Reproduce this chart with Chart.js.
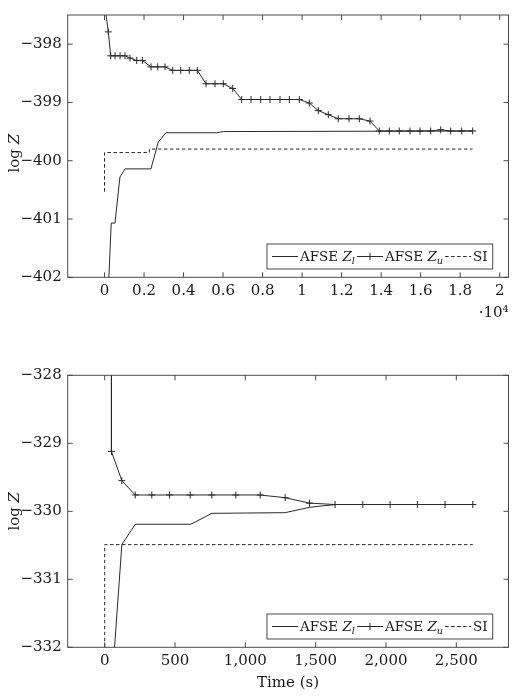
<!DOCTYPE html>
<html>
<head>
<meta charset="utf-8">
<script src="https://cdn.jsdelivr.net/npm/chart.js@4.4.1/dist/chart.umd.min.js"></script>
<style>
  body { margin: 0; background: #fff; }
  canvas { position: absolute; left: 0; }
  #chartTop { top: 0; }
  #chartBottom { top: 350px; }
</style>
</head>
<body>
<canvas id="chartTop" width="516" height="350"></canvas>
<canvas id="chartBottom" width="516" height="349"></canvas>
<script>
// Panel 1 (time axis shown in units of 10^4)
const topZlX = [170, 340, 530, 780, 1040, 2350, 2720, 3110, 5680, 6010, 18630];
const topZlY = [-402.4, -401.07, -401.07, -400.28, -400.14, -400.14, -399.68, -399.52, -399.52, -399.50, -399.49];

const topZuX = [0, 192, 313, 534, 787, 1037, 1290, 1630, 1915, 2353, 2692, 3062, 3451, 3856, 4291, 4696,
  5137, 5592, 6012, 6488, 6943, 7414, 7905, 8375, 8881, 9352, 9858, 10364, 10820, 11326, 11832, 12373,
  12895, 13436, 13907, 14413, 14919, 15460, 15967, 16508, 17014, 17520, 18077, 18633];
const topZuY = [-397.3, -397.79, -398.2, -398.2, -398.2, -398.2, -398.24, -398.28, -398.28, -398.39, -398.39,
  -398.39, -398.45, -398.45, -398.45, -398.45, -398.68, -398.68, -398.68, -398.76, -398.95, -398.95, -398.95,
  -398.95, -398.95, -398.95, -398.95, -399.01, -399.14, -399.21, -399.28, -399.28, -399.28, -399.32, -399.49,
  -399.49, -399.49, -399.49, -399.49, -399.49, -399.47, -399.49, -399.49, -399.49];

const topSIX = [0, 0, 2270, 2270, 18630];
const topSIY = [-400.53, -399.86, -399.86, -399.80, -399.80];

const topXTicks = [0, 2000, 4000, 6000, 8000, 10000, 12000, 14000, 16000, 18000, 20000];
const topYTicks = [-402, -401, -400, -399, -398];

// Panel 2
const botZlX = [65, 122, 217, 613, 762, 1283, 1460, 1645, 2617];
const botZlY = [-332.15, -330.49, -330.19, -330.19, -330.03, -330.02, -329.94, -329.90, -329.90];

const botZuX = [48, 48, 122, 217, 335, 461, 608, 762, 933, 1105, 1283, 1456, 1638, 1835, 2029, 2223, 2420, 2617];
const botZuY = [-327.5, -329.12, -329.55, -329.76, -329.76, -329.76, -329.76, -329.76, -329.76, -329.76,
  -329.80, -329.88, -329.90, -329.90, -329.90, -329.90, -329.90, -329.90];

const botSIX = [0, 0, 2617];
const botSIY = [-332, -330.49, -330.49];

const botXTicks = [0, 500, 1000, 1500, 2000, 2500];
const botYTicks = [-332, -331, -330, -329, -328];

const SERIF = '"DejaVu Serif", serif';
const INK = '#2a2a2a';
const AXIS = '#4a4a4a';

function pts(xs, ys) {
    return xs.map((x, i) => ({ x: x, y: ys[i] }));
}
function minus(v) {
    return String(v).replace('-', '\u2212');
}

// text with italic / subscript pieces
function runFont(r, size) {
    return (r.it ? 'italic ' : '') + (r.sub ? size * 0.72 : size) + 'px ' + SERIF;
}
function runsWidth(ctx, runs, size) {
    let w = 0;
    runs.forEach(r => { ctx.font = runFont(r, size); w += ctx.measureText(r.t).width; });
    return w;
}
function drawRuns(ctx, runs, x, y, size) {
    runs.forEach(r => {
        ctx.font = runFont(r, size);
        ctx.fillText(r.t, x, y + (r.sub ? size * 0.22 : 0));
        x += ctx.measureText(r.t).width;
    });
    return x;
}

const legendItems = [
    { runs: [{ t: 'AFSE ' }, { t: 'Z', it: true }, { t: 'l', it: true, sub: true }], dash: [], mark: false },
    { runs: [{ t: 'AFSE ' }, { t: 'Z', it: true }, { t: 'u', it: true, sub: true }], dash: [], mark: true },
    { runs: [{ t: 'SI' }], dash: [3.5, 2.5], mark: false }
];
const yLabelRuns = [{ t: 'log ' }, { t: 'Z', it: true }];

function drawPlus(ctx, cx, cy, r) {
    ctx.beginPath();
    ctx.moveTo(cx - r, cy); ctx.lineTo(cx + r, cy);
    ctx.moveTo(cx, cy - r); ctx.lineTo(cx, cy + r);
    ctx.stroke();
}

// frame, inner ticks, y label and legend like pgfplots
const pgfAxis = {
    id: 'pgfAxis',
    afterDraw(chart, args, opts) {
        const ctx = chart.ctx;
        const a = chart.chartArea;
        const x = chart.scales.x, y = chart.scales.y;
        ctx.save();
        ctx.strokeStyle = AXIS;
        ctx.lineWidth = 1;
        ctx.strokeRect(a.left, a.top, a.right - a.left, a.bottom - a.top);
        ctx.beginPath();
        x.ticks.forEach(t => {
            const px = x.getPixelForValue(t.value);
            ctx.moveTo(px, a.bottom); ctx.lineTo(px, a.bottom - 5);
            ctx.moveTo(px, a.top); ctx.lineTo(px, a.top + 5);
        });
        y.ticks.forEach(t => {
            const py = y.getPixelForValue(t.value);
            ctx.moveTo(a.left, py); ctx.lineTo(a.left + 5, py);
            ctx.moveTo(a.right, py); ctx.lineTo(a.right - 5, py);
        });
        ctx.stroke();

        // y label
        ctx.fillStyle = '#1a1a1a';
        ctx.textBaseline = 'alphabetic';
        const lw = runsWidth(ctx, yLabelRuns, 15);
        ctx.save();
        ctx.translate(19, (a.top + a.bottom) / 2 + opts.yLabelShift);
        ctx.rotate(-Math.PI / 2);
        drawRuns(ctx, yLabelRuns, -lw / 2, 0, 15);
        ctx.restore();

        // legend box in the lower right corner
        const fs = 13.5;
        let w = 5;
        legendItems.forEach(it => { w += 28 + runsWidth(ctx, it.runs, fs) + 2; });
        w += 3;
        const h = 25;
        const bx = a.right - 15.8 - w, by = a.bottom - 8.3 - h;
        ctx.fillStyle = '#fff';
        ctx.fillRect(bx, by, w, h);
        ctx.strokeRect(bx, by, w, h);
        let cx = bx + 5;
        const cy = by + h / 2;
        ctx.strokeStyle = INK;
        ctx.fillStyle = '#1a1a1a';
        legendItems.forEach(it => {
            ctx.setLineDash(it.dash);
            ctx.beginPath();
            ctx.moveTo(cx, cy); ctx.lineTo(cx + 26, cy);
            ctx.stroke();
            ctx.setLineDash([]);
            if (it.mark) drawPlus(ctx, cx + 13, cy, 3.5);
            cx = drawRuns(ctx, it.runs, cx + 28, cy + 4.9, fs) + 2;
        });
        ctx.restore();
    }
};

function datasetsFor(zlX, zlY, zuX, zuY, siX, siY) {
    return [{
        label: 'AFSE Zl',
        data: pts(zlX, zlY),
        borderColor: INK,
        borderWidth: 1,
        pointRadius: 0
    }, {
        label: 'AFSE Zu',
        data: pts(zuX, zuY),
        borderColor: INK,
        borderWidth: 1,
        pointStyle: 'cross',
        pointRadius: 3.5,
        pointBorderColor: INK,
        pointBorderWidth: 1
    }, {
        label: 'SI',
        data: pts(siX, siY),
        borderColor: INK,
        borderWidth: 1,
        borderDash: [3.5, 2.5],
        pointRadius: 0
    }];
}

function makeConfig(o) {
    return {
        type: 'line',
        data: { datasets: o.datasets },
        options: {
            responsive: false,
            animation: false,
            devicePixelRatio: 1,
            layout: { padding: { top: o.padTop, right: 7.5, bottom: 0, left: 0 } },
            elements: { line: { tension: 0 } },
            scales: {
                x: {
                    type: 'linear',
                    min: o.xMin,
                    max: o.xMax,
                    grid: { display: false, drawTicks: false },
                    border: { display: false },
                    afterBuildTicks: s => { s.ticks = o.xTicks.map(v => ({ value: v })); },
                    afterFit: s => { s.height = o.xAxisHeight; },
                    ticks: {
                        padding: 5,
                        color: '#1a1a1a',
                        font: { family: SERIF, size: 15 },
                        maxRotation: 0,
                        autoSkip: false,
                        callback: o.xFormat
                    },
                    title: {
                        display: true,
                        text: o.xTitle,
                        align: o.xTitleAlign,
                        color: '#1a1a1a',
                        font: { family: SERIF, size: 15 },
                        padding: { top: 0, bottom: o.xTitlePad }
                    }
                },
                y: {
                    min: o.yMin,
                    max: o.yMax,
                    grid: { display: false, drawTicks: false },
                    border: { display: false },
                    afterBuildTicks: s => { s.ticks = o.yTicks.map(v => ({ value: v })); },
                    afterFit: s => { s.width = 67.7; },
                    ticks: {
                        padding: 6,
                        color: '#1a1a1a',
                        font: { family: SERIF, size: 15 },
                        autoSkip: false,
                        callback: v => minus(v)
                    }
                }
            },
            plugins: {
                legend: { display: false },
                tooltip: { enabled: false },
                pgfAxis: { yLabelShift: o.yLabelShift }
            }
        },
        plugins: [pgfAxis]
    };
}

function GraficoArriba() {
    const config = makeConfig({
        datasets: datasetsFor(topZlX, topZlY, topZuX, topZuY, topSIX, topSIY),
        padTop: 5,
        xMin: -1863, xMax: 20445,
        yMin: -402, yMax: -397.5,
        xTicks: topXTicks, yTicks: topYTicks,
        xFormat: v => String(parseFloat((v / 1e4).toFixed(1))),
        xAxisHeight: 72.7,
        xTitle: '\u00b710\u2074', xTitleAlign: 'end', xTitlePad: 27.6,
        yLabelShift: 7
    });
    new Chart(document.getElementById('chartTop'), config);
}

function GraficoAbajo() {
    const config = makeConfig({
        datasets: datasetsFor(botZlX, botZlY, botZuX, botZuY, botSIX, botSIY),
        padTop: 25.3,
        xMin: -263, xMax: 2871,
        yMin: -332, yMax: -328,
        xTicks: botXTicks, yTicks: botYTicks,
        xFormat: v => v.toLocaleString('en-US'),
        xAxisHeight: 51.7,
        xTitle: 'Time (s)', xTitleAlign: 'center', xTitlePad: 7,
        yLabelShift: 0
    });
    new Chart(document.getElementById('chartBottom'), config);
}

GraficoArriba();
GraficoAbajo();
</script>
</body>
</html>
